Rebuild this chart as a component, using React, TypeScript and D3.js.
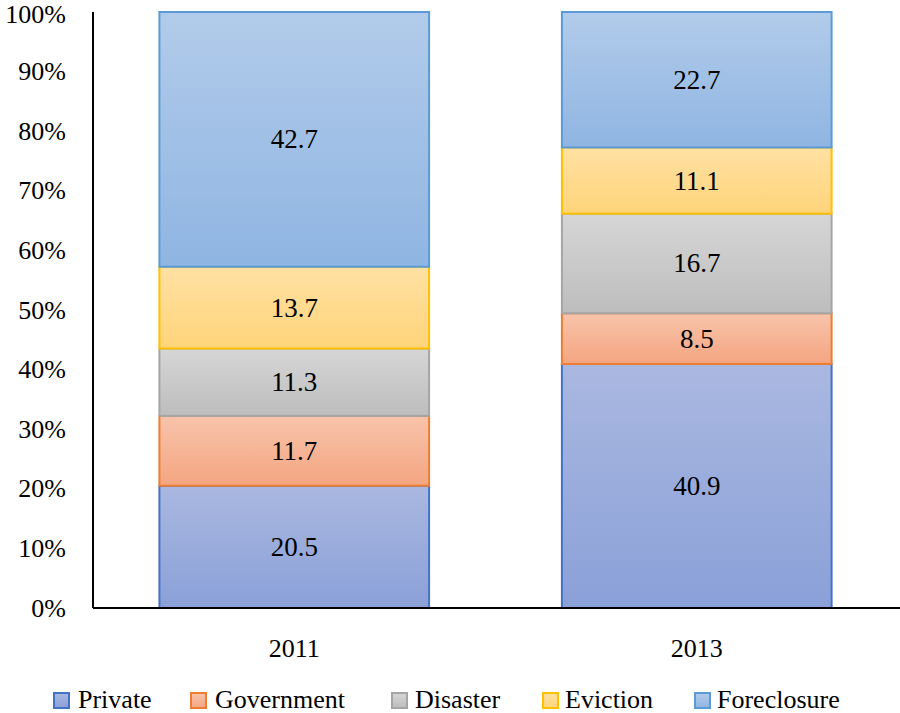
import React from "react";
import * as d3 from "d3";

const years = ["2011", "2013"];
const seriesNames = ["Private", "Government", "Disaster", "Eviction", "Foreclosure"];
const private_ = [20.5, 40.9];
const government = [11.7, 8.5];
const disaster = [11.3, 16.7];
const eviction = [13.7, 11.1];
const foreclosure = [42.7, 22.7];
const yTicks = [0, 10, 20, 30, 40, 50, 60, 70, 80, 90, 100];

const strokes = ["#4472c4", "#ed7d31", "#a5a5a5", "#ffc000", "#5b9bd5"];
const topColors = ["#aab8e0", "#f8c4ab", "#d6d6d6", "#ffe1a3", "#b2cbea"];
const botColors = ["#8aa0d8", "#f4a581", "#bdbdbd", "#ffd47a", "#8fb5e2"];

export default function App() {
  const W = 900, H = 713;
  const left = 93, right = 898, top = 12, bottom = 608;
  const values = [private_, government, disaster, eviction, foreclosure];
  const rows = years.map((y, i) => {
    const o: any = { year: y };
    seriesNames.forEach((s, k) => (o[s] = values[k][i]));
    return o;
  });
  const stack = d3.stack<any>().keys(seriesNames).offset(d3.stackOffsetExpand)(rows);
  const x = d3.scaleBand().domain(years).range([left, right]).paddingInner(0.33).paddingOuter(0.165);
  const y = d3.scaleLinear().domain([0, 1]).range([bottom, top]);
  const fontStyle = { fontFamily: '"Liberation Serif", "DejaVu Serif", "Times New Roman", serif' };

  const legendItems = [
    { sq: 54, tx: 78 },
    { sq: 191, tx: 215 },
    { sq: 392, tx: 415 },
    { sq: 543, tx: 565 },
    { sq: 695, tx: 717 },
  ];

  return (
    <svg width={W} height={H} style={{ position: "absolute", left: 0, top: 0, ...fontStyle }}>
      <defs>
        {seriesNames.map((s, k) => (
          <linearGradient key={s} id={`g${k}`} x1="0" y1="0" x2="0" y2="1">
            <stop offset="0" stopColor={topColors[k]} />
            <stop offset="1" stopColor={botColors[k]} />
          </linearGradient>
        ))}
      </defs>
      <rect width={W} height={H} fill="#fff" />
      {stack.map((layer, k) =>
        layer.map((d, i) => {
          const x0 = x(years[i])!;
          const y0 = y(d[1]);
          const y1 = y(d[0]);
          return (
            <g key={`${k}-${i}`}>
              <rect x={x0} y={y0} width={x.bandwidth()} height={y1 - y0} fill={`url(#g${k})`} stroke={strokes[k]} strokeWidth={2} />
              <text x={x0 + x.bandwidth() / 2} y={(y0 + y1) / 2} textAnchor="middle" dominantBaseline="central" fontSize={27} fill="#000" style={fontStyle}>
                {values[k][i].toFixed(1)}
              </text>
            </g>
          );
        })
      )}
      <line x1={left} x2={left} y1={top} y2={bottom} stroke="#000" strokeWidth={2} />
      <line x1={left} x2={right + 2} y1={bottom} y2={bottom} stroke="#000" strokeWidth={2} />
      {yTicks.map((t) => (
        <text key={t} x={66} y={y(t / 100) + (t === 100 ? 2 : 0)} textAnchor="end" dominantBaseline="central" fontSize={26} style={fontStyle}>
          {t}%
        </text>
      ))}
      {years.map((yr) => (
        <text key={yr} x={x(yr)! + x.bandwidth() / 2} y={648} textAnchor="middle" dominantBaseline="central" fontSize={26} style={fontStyle}>
          {yr}
        </text>
      ))}
      {seriesNames.map((s, k) => (
        <g key={s}>
          <rect x={legendItems[k].sq} y={693} width={15} height={15} fill={`url(#g${k})`} stroke={strokes[k]} strokeWidth={2} />
          <text x={legendItems[k].tx} y={699} dominantBaseline="central" fontSize={26} style={fontStyle}>
            {s}
          </text>
        </g>
      ))}
    </svg>
  );
}
